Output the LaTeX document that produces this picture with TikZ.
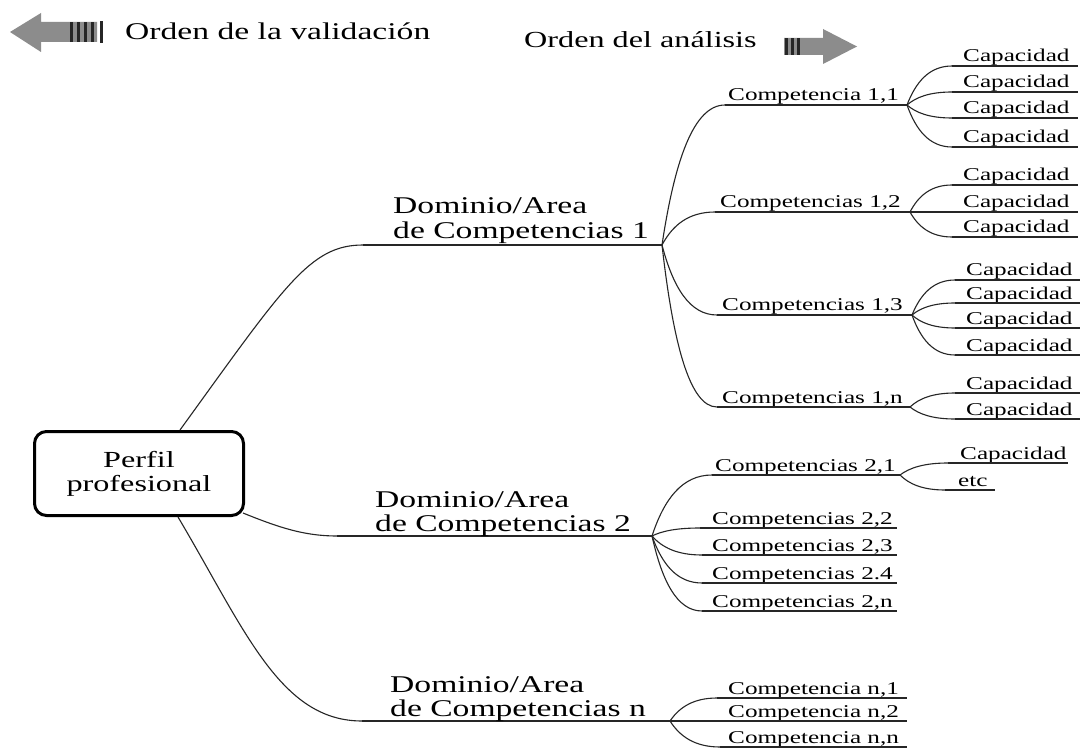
\documentclass[tikz,border=0pt]{standalone}
\usepackage{fontspec}
\usepackage{graphicx}
\setmainfont{Liberation Serif}
\usetikzlibrary{calc}
\newcommand\xs[1]{\scalebox{1.4}[1]{#1}}
\tikzset{
  conn/.style={line width=1.1pt, draw=black!85},
  uline/.style={line width=1.3pt, draw=black!85},
  branch/.style={conn, to path={let \p1=(\tikztostart), \p2=(\tikztotarget) in .. controls ({\x1+0.2*(\x2-\x1)}, {\y1+0.6*(\y2-\y1)}) and ({\x1+0.5*(\x2-\x1)}, \y2) .. (\tikztotarget)}},
  small/.style={font=\fontsize{18}{20}\selectfont, inner sep=0pt, anchor=base west},
  big/.style={font=\fontsize{24}{26}\selectfont, inner sep=0pt, anchor=base west},
  ttl/.style={font=\fontsize{23}{25}\selectfont, inner sep=0pt, anchor=base west},
  rootbox/.style={draw, line width=3pt, rounded corners=12pt, minimum width=209pt, minimum height=84pt, align=center, font=\fontsize{23}{24}\selectfont, inner sep=0pt},
  arrowbody/.style={fill=black!45},
  arrowbar/.style={fill=black!85},
}
\begin{document}
\begin{tikzpicture}[x=1pt,y=-1pt]
\useasboundingbox (0,0) rectangle (1084,751);
\fill[white] (0,0) rectangle (1084,751);

% --- top arrows and titles
\fill[arrowbody] (10,32) -- (41,13) -- (41,22) -- (97,22) -- (97,42) -- (41,42) -- (41,52) -- cycle;
\foreach \x in {70,77,84,91} \fill[arrowbar] (\x,22) rectangle ++(3,20);
\fill[arrowbar] (100,21) rectangle ++(2.5,22);
\node[ttl, font=\fontsize{24}{26}\selectfont] (tval) at (125,40) {\xs{Orden de la validación}};
\node[ttl] (tana) at (524,48) {\xs{Orden del análisis}};
\fill[arrowbody] (784,38) -- (823,38) -- (823,29) -- (857,46.5) -- (823,64) -- (823,55) -- (784,55) -- cycle;
\foreach \x in {785,791,797} \fill[arrowbar] (\x,38) rectangle ++(2.5,17);

% --- root
\node[rootbox] (root) at (139,473.5) {\xs{Perfil}\\\xs{profesional}};
\coordinate (r1) at (180,430);
\coordinate (r2) at (243,513);
\coordinate (r3) at (178,517);

% --- domains
\coordinate (d1s) at (363,245); \coordinate (d1e) at (662,245);
\coordinate (d2s) at (337,536); \coordinate (d2e) at (652,536);
\coordinate (dns) at (362,721); \coordinate (dne) at (670,721);
\draw[conn] (r1) .. controls (285,285) and (310,245) .. (d1s);
\draw[conn] (r2) .. controls (280,528) and (305,536) .. (d2s);
\draw[conn] (r3) .. controls (245,630) and (280,721) .. (dns);
\draw[uline] (d1s) -- (d1e);
\draw[uline] (d2s) -- (d2e);
\draw[uline] (dns) -- (dne);
\node[big] (d1a) at (393,214) {\xs{Dominio/Area}};
\node[big] (d1b) at (393,239) {\xs{de Competencias 1}};
\node[big] (d2a) at (375,507) {\xs{Dominio/Area}};
\node[big] (d2b) at (375,531) {\xs{de Competencias 2}};
\node[big] (dna) at (390,692) {\xs{Dominio/Area}};
\node[big] (dnb) at (390,716) {\xs{de Competencias n}};

% --- competencias of domain 1
\coordinate (c11s) at (725,105); \coordinate (c11e) at (907,105);
\node[small] (c11) at (728,101) {\xs{Competencia 1,1}};
\draw[uline] (c11s) -- (c11e); \draw[branch] (d1e) to (c11s);
\coordinate (c12s) at (715,212); \coordinate (c12e) at (910,212);
\node[small] (c12) at (720,208) {\xs{Competencias 1,2}};
\draw[uline] (c12s) -- (c12e); \draw[branch] (d1e) to (c12s);
\coordinate (c13s) at (717,315); \coordinate (c13e) at (912,315);
\node[small] (c13) at (722,311) {\xs{Competencias 1,3}};
\draw[uline] (c13s) -- (c13e); \draw[branch] (d1e) to (c13s);
\coordinate (c1ns) at (717,407); \coordinate (c1ne) at (910,407);
\node[small] (c1n) at (722,403) {\xs{Competencias 1,n}};
\draw[uline] (c1ns) -- (c1ne); \draw[branch] (d1e) to (c1ns);

% --- competencias of domain 2
\coordinate (c21s) at (712,475); \coordinate (c21e) at (900,475);
\node[small] (c21) at (715,471) {\xs{Competencias 2,1}};
\draw[uline] (c21s) -- (c21e); \draw[branch] (d2e) to (c21s);
\coordinate (c22s) at (700,528); \coordinate (c22e) at (897,528);
\node[small] (c22) at (712,524) {\xs{Competencias 2,2}};
\draw[uline] (c22s) -- (c22e); \draw[branch] (d2e) to (c22s);
\coordinate (c23s) at (702,555); \coordinate (c23e) at (897,555);
\node[small] (c23) at (712,551) {\xs{Competencias 2,3}};
\draw[uline] (c23s) -- (c23e); \draw[branch] (d2e) to (c23s);
\coordinate (c24s) at (702,583); \coordinate (c24e) at (897,583);
\node[small] (c24) at (712,579) {\xs{Competencias 2.4}};
\draw[uline] (c24s) -- (c24e); \draw[branch] (d2e) to (c24s);
\coordinate (c2ns) at (702,611); \coordinate (c2ne) at (897,611);
\node[small] (c2n) at (712,607) {\xs{Competencias 2,n}};
\draw[uline] (c2ns) -- (c2ne); \draw[branch] (d2e) to (c2ns);

% --- competencias of domain n
\coordinate (cn1s) at (717,698); \coordinate (cn1e) at (907,698);
\node[small] (cn1) at (728,694) {\xs{Competencia n,1}};
\draw[uline] (cn1s) -- (cn1e); \draw[branch] (dne) to (cn1s);
\coordinate (cn2e) at (907,721);
\node[small] (cn2) at (728,717) {\xs{Competencia n,2}};
\draw[uline] (dne) -- (cn2e);
\coordinate (cnns) at (720,747); \coordinate (cnne) at (907,747);
\node[small] (cnn) at (728,743) {\xs{Competencia n,n}};
\draw[uline] (cnns) -- (cnne); \draw[branch] (dne) to (cnns);

% --- capacidades
\foreach \y [count=\i] in {66,92,118,147} {
  \coordinate (kas\i) at (952,\y); \coordinate (kae\i) at (1078,\y);
  \node[small] (ka\i) at (963,\y-4) {\xs{Capacidad}};
  \draw[uline] (kas\i) -- (kae\i); \draw[branch] (c11e) to (kas\i);
}
\foreach \y [count=\i] in {185,212,237} {
  \coordinate (kbs\i) at (952,\y); \coordinate (kbe\i) at (1078,\y);
  \node[small] (kb\i) at (963,\y-4) {\xs{Capacidad}};
  \draw[uline] (kbs\i) -- (kbe\i); \draw[branch] (c12e) to (kbs\i);
}
\foreach \y [count=\i] in {280,303,328,355} {
  \coordinate (kcs\i) at (955,\y); \coordinate (kce\i) at (1080,\y);
  \node[small] (kc\i) at (966,\y-4) {\xs{Capacidad}};
  \draw[uline] (kcs\i) -- (kce\i); \draw[branch] (c13e) to (kcs\i);
}
\foreach \y [count=\i] in {393,419} {
  \coordinate (kds\i) at (955,\y); \coordinate (kde\i) at (1080,\y);
  \node[small] (kd\i) at (966,\y-4) {\xs{Capacidad}};
  \draw[uline] (kds\i) -- (kde\i); \draw[branch] (c1ne) to (kds\i);
}
\coordinate (kes1) at (948,463); \coordinate (kee1) at (1068,463);
\node[small] (ke1) at (960,459) {\xs{Capacidad}};
\draw[uline] (kes1) -- (kee1); \draw[branch] (c21e) to (kes1);
\coordinate (kes2) at (945,490); \coordinate (kee2) at (995,490);
\node[small] (ke2) at (958,486) {\xs{etc}};
\draw[uline] (kes2) -- (kee2); \draw[branch] (c21e) to (kes2);
\end{tikzpicture}
\end{document}
